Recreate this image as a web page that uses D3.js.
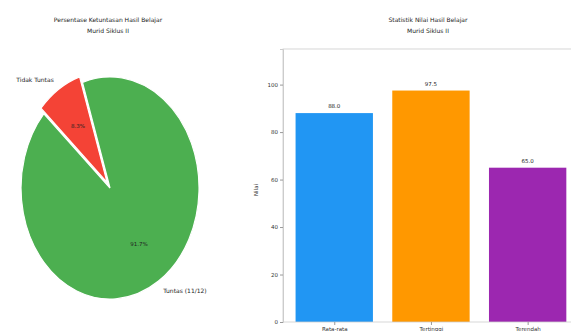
<!DOCTYPE html>
<html>
<head>
<meta charset="utf-8">
<script src="https://cdn.jsdelivr.net/npm/d3@7"></script>
<style>
body{margin:0;background:#fff;}
svg{display:block;font-family:"DejaVu Sans",sans-serif;}
</style>
</head>
<body>
<div id="chart"></div>
<script>
// pie data
var pieLabels=["Tuntas (11/12)","Tidak Tuntas"];
var pieValues=[11,1];
var pieColors=["#4CAF50","#F44336"];
var pieExplode=[0,0.06];
// bar data
var barCats=["Rata-rata","Tertinggi","Terendah"];
var barValues=[88.0,97.5,65.0];
var barColors=["#2196F3","#FF9800","#9C27B0"];
var yTicks=[0,20,40,60,80,100];

var wide=571,high=331;
var svg=d3.select("#chart").append("svg").attr("width",wide).attr("height",high);

// ---- pie ----
var cx=110,cy=188,rx=89,ry=111;
var deg=Math.PI/180;
var start=138; // matplotlib style startangle, ccw from 3 o'clock
var pie=d3.pie().sort(null)
  .startAngle((90-start)*deg)
  .endAngle((90-start-360)*deg);
var arcs=pie(pieValues);
var arc=d3.arc().innerRadius(0).outerRadius(1);
var total=d3.sum(pieValues);

svg.append("text").attr("x",108).attr("y",22).attr("text-anchor","middle")
  .attr("font-size",6).attr("fill","#222").text("Persentase Ketuntasan Hasil Belajar");
svg.append("text").attr("x",108).attr("y",33).attr("text-anchor","middle")
  .attr("font-size",6).attr("fill","#222").text("Murid Siklus II");

var pg=svg.append("g");
arcs.forEach(function(a,i){
  var mid=(a.startAngle+a.endAngle)/2;
  var ex=Math.sin(mid)*pieExplode[i]*rx;
  var ey=-Math.cos(mid)*pieExplode[i]*ry;
  pg.append("path")
    .attr("d",arc(a))
    .attr("transform","translate("+(cx+ex)+","+(cy+ey)+") scale("+rx+","+ry+")")
    .attr("fill",pieColors[i])
    .attr("stroke","#fff")
    .attr("stroke-width",1.2)
    .attr("vector-effect","non-scaling-stroke");
  var ld=1.1+pieExplode[i];
  var lx=cx+Math.sin(mid)*ld*rx;
  var ly=cy-Math.cos(mid)*ld*ry;
  pg.append("text").attr("x",lx).attr("y",ly).attr("dy","0.35em")
    .attr("text-anchor",Math.sin(mid)<0?"end":"start")
    .attr("font-size",6).attr("fill","#222").text(pieLabels[i]);
  var pd=0.6+pieExplode[i];
  pg.append("text")
    .attr("x",cx+Math.sin(mid)*pd*rx)
    .attr("y",cy-Math.cos(mid)*pd*ry)
    .attr("dy","0.35em").attr("text-anchor","middle")
    .attr("font-size",5.5).attr("fill","#222")
    .text((pieValues[i]/total*100).toFixed(1)+"%");
});

// ---- bars ----
var axLeft=283,axBottom=322,axTop=49;
var xscale=d3.scaleLinear().domain([-0.53,2.6]).range([axLeft,axLeft+3.13*96.7]);
var yscale=d3.scaleLinear().domain([0,115]).range([axBottom,axTop]);
var bw=0.8;

svg.append("text").attr("x",428).attr("y",22).attr("text-anchor","middle")
  .attr("font-size",6).attr("fill","#222").text("Statistik Nilai Hasil Belajar");
svg.append("text").attr("x",428).attr("y",33).attr("text-anchor","middle")
  .attr("font-size",6).attr("fill","#222").text("Murid Siklus II");

svg.selectAll(".bar").data(barValues).enter().append("rect")
  .attr("class","bar")
  .attr("x",function(d,i){return xscale(i-bw/2);})
  .attr("width",function(d,i){return xscale(i+bw/2)-xscale(i-bw/2);})
  .attr("y",function(d){return yscale(d);})
  .attr("height",function(d){return axBottom-yscale(d);})
  .attr("fill",function(d,i){return barColors[i];});

svg.selectAll(".blabel").data(barValues).enter().append("text")
  .attr("class","blabel")
  .attr("x",function(d,i){return xscale(i);})
  .attr("y",function(d){return yscale(d)-5;})
  .attr("text-anchor","middle").attr("font-size",5.5).attr("fill","#222")
  .text(function(d){return d.toFixed(1);});

// frame
svg.append("rect").attr("x",axLeft).attr("y",axTop)
  .attr("width",xscale(2.6)-axLeft).attr("height",axBottom-axTop)
  .attr("fill","none").attr("stroke","#ccc").attr("stroke-width",0.8);

var yaxis=d3.axisLeft(yscale).tickValues(yTicks).tickSize(3).tickPadding(2);
var yg=svg.append("g").attr("transform","translate("+axLeft+",0)").call(yaxis);
yg.select(".domain").attr("stroke","#ccc");
yg.selectAll(".tick line").attr("stroke","#999");
yg.selectAll("text").attr("font-size",5.5).attr("fill","#333").attr("font-family","DejaVu Sans");

var xaxis=d3.axisBottom(xscale).tickValues([0,1,2]).tickFormat(function(d){return barCats[d];}).tickSize(3).tickPadding(2);
var xg=svg.append("g").attr("transform","translate(0,"+axBottom+")").call(xaxis);
xg.select(".domain").remove();
xg.selectAll(".tick line").attr("stroke","#999");
xg.selectAll("text").attr("font-size",5.5).attr("fill","#333").attr("font-family","DejaVu Sans");

svg.append("text").attr("transform","translate(258,190) rotate(-90)")
  .attr("text-anchor","middle").attr("font-size",5.5).attr("fill","#333").text("Nilai");
</script>
</body>
</html>
